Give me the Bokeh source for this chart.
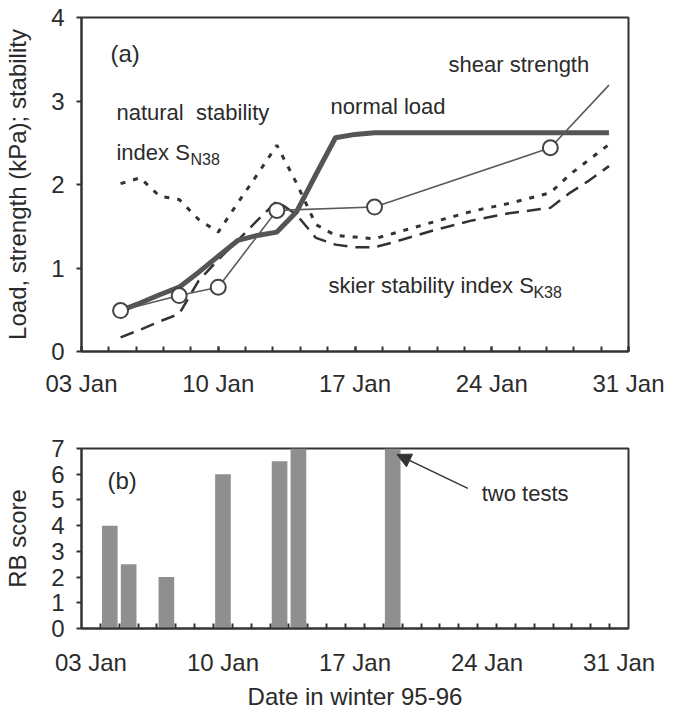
from bokeh.plotting import figure
from bokeh.layouts import column
from bokeh.models import Range1d, FixedTicker, Label, Arrow, NormalHead
from bokeh.embed import file_html
from bokeh.resources import INLINE

# ---------------- data ----------------
# panel (a): x = day of January 1996
load_days = [5, 6, 7, 8, 9, 10, 11, 12, 13, 14, 15, 16, 17, 18, 20, 22, 24, 26, 28, 30]
normal_load = [0.49, 0.58, 0.68, 0.77, 0.95, 1.14, 1.33, 1.39, 1.43, 1.67, 2.12, 2.56,
               2.60, 2.62, 2.62, 2.62, 2.62, 2.62, 2.62, 2.62]

shear_days = [5, 8, 10, 13, 18, 27, 30]
shear_strength = [0.49, 0.67, 0.77, 1.69, 1.73, 2.44, 3.19]

sn_days = [5, 6, 7, 8, 9, 10, 11, 12, 13, 14, 15, 16, 17, 18, 21, 23, 25, 27, 28, 29, 30]
sn38 = [2.01, 2.08, 1.86, 1.82, 1.58, 1.43, 1.78, 2.12, 2.47, 2.02, 1.52, 1.39, 1.37,
        1.35, 1.55, 1.68, 1.78, 1.90, 2.12, 2.30, 2.48]

sk_days = [5, 6, 7, 8, 9, 10, 11, 12, 13, 14, 15, 16, 17, 18, 19, 21, 23, 25, 27, 28, 29, 30]
sk38 = [0.17, 0.26, 0.36, 0.45, 0.85, 1.10, 1.33, 1.57, 1.80, 1.64, 1.36, 1.28, 1.25,
        1.25, 1.31, 1.45, 1.57, 1.66, 1.72, 1.90, 2.05, 2.22]

# panel (b)
rb_days = [4, 5, 7, 10, 13, 14, 19]
rb_score = [4, 2.5, 2, 6, 6.5, 7, 7]

date_ticks = [3, 10, 17, 24, 31]
date_labels = ["03 Jan", "10 Jan", "17 Jan", "24 Jan", "31 Jan"]
y_ticks_a = [0, 1, 2, 3, 4]
y_ticks_b = [0, 1, 2, 3, 4, 5, 6, 7]

FONT = "Liberation Sans"
INK = "#2b2b2b"
AX = "#333333"


def style(p):
    p.background_fill_color = "white"
    p.border_fill_color = "white"
    p.outline_line_color = AX
    p.outline_line_width = 2
    p.xgrid.visible = False
    p.ygrid.visible = False
    for ax in (p.xaxis[0], p.yaxis[0]):
        ax.axis_line_color = AX
        ax.axis_line_width = 2
        ax.major_tick_line_color = AX
        ax.minor_tick_line_color = AX
        ax.major_tick_line_width = 2
        ax.minor_tick_line_width = 2
        ax.major_label_text_font = FONT
        ax.major_label_text_font_size = "24px"
        ax.major_label_text_color = INK
        ax.axis_label_text_font = FONT
        ax.axis_label_text_font_size = "24px"
        ax.axis_label_text_font_style = "normal"
        ax.axis_label_text_color = INK
    # y axis: outward ticks
    p.yaxis[0].major_tick_in = 0
    p.yaxis[0].major_tick_out = 5
    p.yaxis[0].minor_tick_in = 0
    p.yaxis[0].minor_tick_out = 0
    p.yaxis[0].major_label_standoff = 12
    p.yaxis[0].axis_label_standoff = 17


def lab(p, text, x, y, size="22px", xo=0, yo=0):
    p.add_layout(Label(x=x, y=y, text=text, x_offset=xo, y_offset=yo,
                       text_font=FONT, text_font_size=size, text_color=INK,
                       text_align="left", text_baseline="middle"))


overrides = {t: s for t, s in zip(date_ticks, date_labels)}

# ---------------- panel (a) ----------------
p1 = figure(width=677, height=425, output_backend="svg", toolbar_location=None,
            x_range=Range1d(3, 31), y_range=Range1d(0, 4),
            min_border_left=81, min_border_right=49, min_border_top=17,
            min_border_bottom=74)
style(p1)
p1.yaxis[0].axis_label = "Load, strength (kPa); stability"
p1.yaxis[0].ticker = FixedTicker(ticks=y_ticks_a)
p1.xaxis[0].ticker = FixedTicker(ticks=date_ticks,
                                 minor_ticks=[3 + 1.4 * k for k in range(21)])
p1.xaxis[0].major_label_overrides = overrides
p1.xaxis[0].major_tick_in = 5
p1.xaxis[0].major_tick_out = 0
p1.xaxis[0].minor_tick_in = 5
p1.xaxis[0].minor_tick_out = 0
p1.xaxis[0].major_label_standoff = 18

p1.line(sn_days, sn38, line_color=AX, line_width=3, line_dash="5 8")
p1.line(sk_days, sk38, line_color=AX, line_width=2.5, line_dash="14 8")
p1.line(load_days, normal_load, line_color="#555555", line_width=5, line_join="round")
p1.line(shear_days, shear_strength, line_color="#5a5a5a", line_width=1.6)
p1.scatter(shear_days[:-1], shear_strength[:-1], marker="circle", size=15,
           line_color="#444444", line_width=2, fill_color="white")

lab(p1, "(a)", 4.48, 3.57, size="24px")
lab(p1, "natural\u00a0 stability", 4.79, 2.86)
lab(p1, "index S", 4.79, 2.38)
lab(p1, "N38", 4.79, 2.38, size="16px", xo=74, yo=-7)
lab(p1, "normal load", 15.75, 2.93)
lab(p1, "shear strength", 21.79, 3.44)
lab(p1, "skier stability index S", 15.64, 0.79)
lab(p1, "K38", 15.64, 0.79, size="16px", xo=205, yo=-7)

# ---------------- panel (b) ----------------
p2 = figure(width=677, height=288, output_backend="svg", toolbar_location=None,
            x_range=Range1d(2.5, 31.5), y_range=Range1d(0, 7),
            min_border_left=81, min_border_right=48, min_border_top=23,
            min_border_bottom=85)
style(p2)
p2.yaxis[0].axis_label = "RB score"
p2.yaxis[0].ticker = FixedTicker(ticks=y_ticks_b)
p2.xaxis[0].ticker = FixedTicker(ticks=date_ticks,
                                 minor_ticks=[3.5 + k for k in range(28)])
p2.xaxis[0].major_label_overrides = overrides
p2.xaxis[0].major_tick_in = 0
p2.xaxis[0].major_tick_out = 0
p2.xaxis[0].minor_tick_in = 5
p2.xaxis[0].minor_tick_out = 0
p2.xaxis[0].major_label_standoff = 20
p2.xaxis[0].axis_label = "Date in winter 95-96"
p2.xaxis[0].axis_label_standoff = 4

p2.vbar(x=rb_days, top=rb_score, width=0.83, bottom=0,
        fill_color="#8f8f8f", line_color=None)

lab(p2, "(b)", 3.88, 5.76, size="24px")
lab(p2, "two tests", 23.72, 5.25)
p2.add_layout(Arrow(x_start=22.98, y_start=5.45, x_end=19.22, y_end=6.77,
                    line_color=AX, line_width=1.5,
                    end=NormalHead(size=14, fill_color=AX, line_color=AX)))

layout = column(p1, p2, spacing=0)
open("out.html", "w").write(file_html(layout, INLINE))
